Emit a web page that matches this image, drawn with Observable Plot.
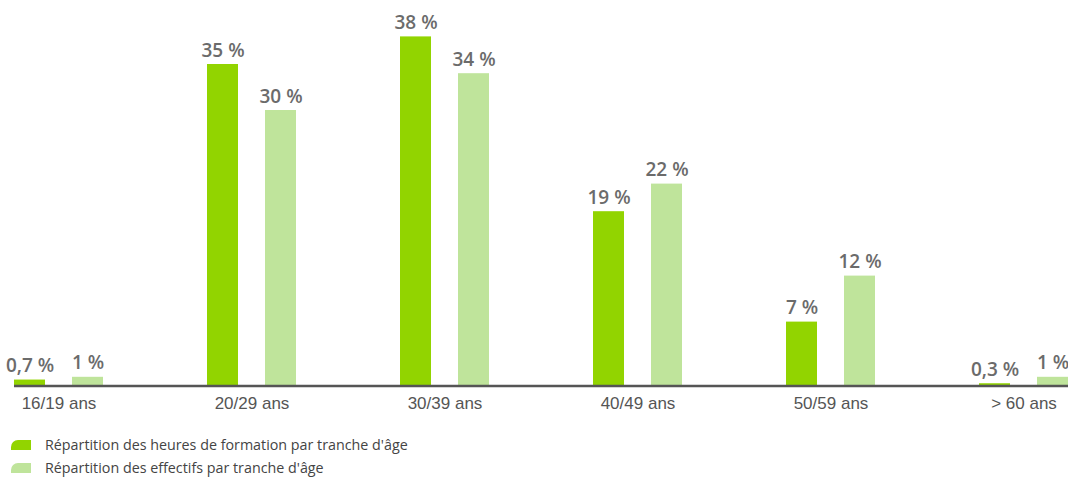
<!DOCTYPE html>
<html>
<head>
<meta charset="utf-8">
<script src="https://cdn.jsdelivr.net/npm/d3@7"></script>
<script src="https://cdn.jsdelivr.net/npm/@observablehq/plot@0.6"></script>
<style>
  html, body { margin: 0; padding: 0; background: #fff; }
  #legend { font-family: "Open Sans", sans-serif; font-size: 14.3px; color: #444; padding-top: 13px; }
  .item { display: flex; align-items: center; height: 23px; }
  .sw { width: 20px; height: 10px; margin-left: 11px; margin-right: 14px; border-radius: 7px 0 0 0; }
</style>
</head>
<body>
<div id="chart"></div>
<div id="legend"></div>
<script>
const categories = ["16/19 ans", "20/29 ans", "30/39 ans", "40/49 ans", "50/59 ans", "> 60 ans"];
const seriesNames = ["Répartition des heures de formation par tranche d'âge", "Répartition des effectifs par tranche d'âge"];
const heures = [0.7, 35, 38, 19, 7, 0.3];
const effectifs = [1, 30, 34, 22, 12, 1];
const colors = ["#92d400", "#bfe49b"];

const data = [];
categories.forEach((c, i) => {
  data.push({cat: c, series: seriesNames[0], value: heures[i]});
  data.push({cat: c, series: seriesNames[1], value: effectifs[i]});
});
const fmt = v => String(v).replace(".", ",") + " %";

const plot = Plot.plot({
  width: 1068,
  height: 420,
  marginLeft: 14,
  marginRight: 0,
  marginTop: 18,
  marginBottom: 34,
  style: {fontFamily: "Liberation Sans, Arial, sans-serif", fontSize: "17px", color: "#555", background: "#fff"},
  fx: {domain: categories, paddingInner: 0.539, paddingOuter: 0},
  x: {domain: seriesNames, paddingInner: 0.466, paddingOuter: 0, axis: null},
  y: {domain: [0, 40], axis: null},
  color: {domain: seriesNames, range: colors},
  marks: [
    Plot.barY(data, {fx: "cat", x: "series", y: "value", fill: "series"}),
    Plot.text(data, {fx: "cat", x: "series", y: "value", text: d => fmt(d.value), lineAnchor: "bottom", dy: -8,
      fill: "#6b6b6b", fontFamily: "Open Sans, sans-serif", fontWeight: 600, fontSize: 19}),
    Plot.axisFx({anchor: "bottom", tickSize: 0, tickPadding: 10, label: null, fontSize: 17, fill: "#555"})
  ]
});

const yS = plot.scale("y");
const fxS = plot.scale("fx");
const y0 = yS.apply(0);
d3.select(plot).append("line")
  .attr("x1", fxS.range[0]).attr("x2", fxS.range[1])
  .attr("y1", y0).attr("y2", y0)
  .attr("stroke", "#555").attr("stroke-width", 2.5);

document.getElementById("chart").appendChild(plot);

const legend = d3.select("#legend");
seriesNames.forEach((s, i) => {
  const it = legend.append("div").attr("class", "item");
  it.append("div").attr("class", "sw").style("background", colors[i]);
  it.append("span").text(s);
});
</script>
</body>
</html>
